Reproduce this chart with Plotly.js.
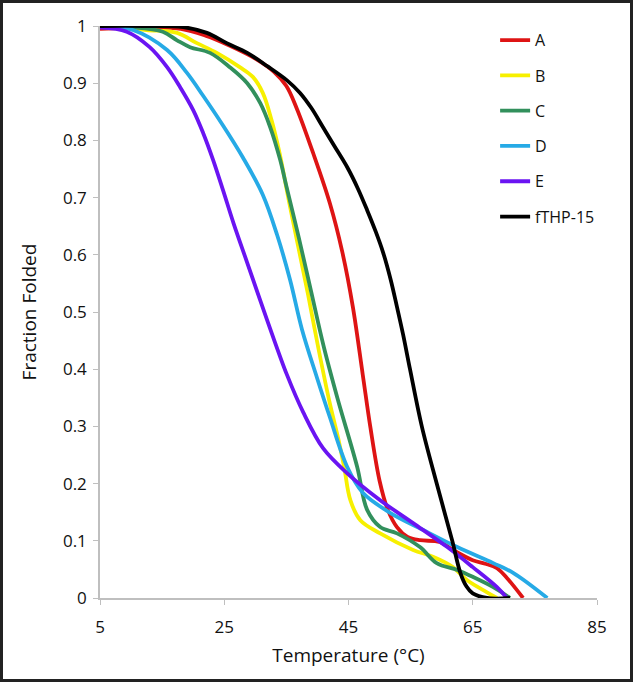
<!DOCTYPE html>
<html>
<head>
<meta charset="utf-8">
<script src="https://cdn.plot.ly/plotly-3.0.1.min.js"></script>
<style>
  body { margin: 0; background: #fff; }
  #frame { width: 633px; height: 682px; box-sizing: border-box; border: 3px solid #222; }
  #chart { width: 627px; height: 676px; }
</style>
</head>
<body>
<div id="frame"><div id="chart"></div></div>
<script>
// melting curves
let tempA = [5, 12, 18, 22, 26, 30, 33, 35, 36.7, 39.3, 42, 44, 45.7, 47.3, 48.5, 50, 51.3, 52.8, 54.5, 56.5, 59.7, 61.8, 65, 67, 68.9, 70.5, 73.1];
let fracA = [0.995, 0.997, 0.995, 0.983, 0.965, 0.943, 0.92, 0.895, 0.855, 0.778, 0.69, 0.605, 0.509, 0.39, 0.3, 0.205, 0.155, 0.124, 0.107, 0.101, 0.098, 0.084, 0.066, 0.06, 0.052, 0.035, 0];

let tempB = [5, 8, 12.5, 17.4, 20.6, 23.8, 27.5, 29.6, 31.2, 32.6, 33.9, 35.3, 36.8, 38.5, 40.2, 42, 43.3, 44.3, 45.3, 46.9, 50.1, 55.4, 58.6, 61.8, 64.1, 67.3, 68.9];
let fracB = [1, 0.998, 0.993, 0.988, 0.97, 0.953, 0.928, 0.911, 0.883, 0.836, 0.778, 0.7, 0.62, 0.53, 0.434, 0.34, 0.281, 0.229, 0.171, 0.136, 0.113, 0.084, 0.072, 0.054, 0.031, 0.01, 0];

let tempC = [5, 9.8, 15.1, 17.4, 19.5, 22.7, 25.9, 28.7, 30.8, 32.4, 34, 35, 37, 39, 41, 43.2, 46.4, 48.0, 50.1, 52.8, 56.5, 59.2, 62.5, 65, 68.3, 71];
let fracC = [1, 0.998, 0.99, 0.975, 0.963, 0.953, 0.928, 0.9, 0.865, 0.823, 0.766, 0.72, 0.63, 0.535, 0.44, 0.35, 0.229, 0.154, 0.124, 0.113, 0.089, 0.061, 0.049, 0.037, 0.019, 0];

let tempD = [5, 10.3, 15.8, 19, 21.6, 24.8, 28, 31.2, 33.5, 35.6, 37.5, 39.9, 42.0, 44.8, 47.3, 51.7, 57.0, 62.5, 68.3, 71.5, 77];
let fracD = [1, 0.993, 0.958, 0.918, 0.878, 0.826, 0.77, 0.705, 0.635, 0.556, 0.47, 0.386, 0.316, 0.229, 0.184, 0.149, 0.119, 0.089, 0.061, 0.044, 0];

let tempE = [5, 9.3, 13, 15.8, 17.9, 20, 21.6, 23.2, 24.8, 26.5, 28.7, 31.9, 35.1, 37.7, 40.9, 44.8, 50.1, 55.4, 60.9, 65, 68.9, 70.5];
let fracE = [0.997, 0.99, 0.963, 0.928, 0.893, 0.853, 0.813, 0.766, 0.713, 0.655, 0.586, 0.486, 0.39, 0.325, 0.262, 0.218, 0.171, 0.131, 0.089, 0.054, 0.019, 0];

let tempF = [5, 12, 18.4, 22.2, 25.4, 28.7, 31.9, 35.1, 37.2, 39, 40.9, 42.8, 44.8, 46.5, 48, 49.4, 50.6, 51.8, 52.8, 53.8, 54.9, 56.8, 59.2, 61.7, 63, 64, 65, 67.3, 71];
let fracF = [1, 1, 0.998, 0.988, 0.97, 0.953, 0.93, 0.905, 0.883, 0.857, 0.823, 0.789, 0.753, 0.716, 0.678, 0.64, 0.603, 0.556, 0.509, 0.46, 0.4, 0.3, 0.2, 0.1, 0.044, 0.02, 0.008, 0, 0];

let names = ['A', 'B', 'C', 'D', 'E', 'fTHP-15'];
let colors = ['#de1414', '#f7f000', '#32905c', '#26aae6', '#6a14f2', '#000000'];
let xs = [tempA, tempB, tempC, tempD, tempE, tempF];
let ys = [fracA, fracB, fracC, fracD, fracE, fracF];

let traces = [];
for (let i in names) {
    traces.push({
        x: xs[i],
        y: ys[i],
        name: names[i],
        legendgroup: names[i],
        mode: 'lines',
        line: { color: colors[i], width: 3.8, shape: 'spline', smoothing: 1 }
    });
}

let font = '"Open Sans", Lato, sans-serif';

Plotly.newPlot('chart', traces, {
    width: 627,
    height: 676,
    margin: { l: 97, r: 33, t: 23, b: 81 },
    paper_bgcolor: '#fff',
    plot_bgcolor: '#fff',
    font: { family: font, size: 17, color: '#111' },
    showlegend: true,
    legend: {
        x: 0.795, y: 1.005, xanchor: 'left', yanchor: 'top',
        font: { size: 16 },
        tracegroupgap: 11.5,
        itemwidth: 30,
        bgcolor: 'rgba(0,0,0,0)'
    },
    xaxis: {
        range: [5, 85],
        tickvals: [5, 25, 45, 65, 85],
        showgrid: false, zeroline: false,
        showline: true, linecolor: '#bfbfbf', linewidth: 1.5,
        ticks: 'outside', ticklen: 5, tickcolor: '#bfbfbf',
        ticklabelstandoff: 8,
        title: { text: 'Temperature (°C)', font: { size: 19 }, standoff: 12 }
    },
    yaxis: {
        range: [0, 1],
        dtick: 0.1,
        showgrid: false, zeroline: false,
        showline: true, linecolor: '#bfbfbf', linewidth: 1.5,
        ticks: 'outside', ticklen: 5, tickcolor: '#bfbfbf',
        ticklabelstandoff: 3,
        title: { text: 'Fraction Folded', font: { size: 19 }, standoff: 21 }
    }
}, { displayModeBar: false });
</script>
</body>
</html>
